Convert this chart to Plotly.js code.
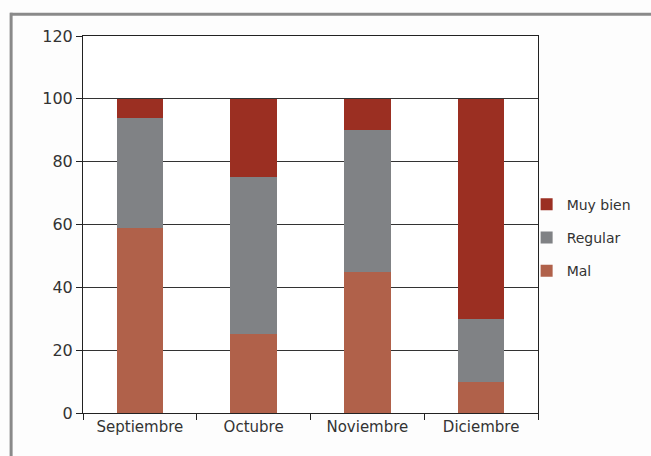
<!DOCTYPE html>
<html>
<head>
<meta charset="utf-8">
<script src="https://cdn.plot.ly/plotly-3.0.1.min.js"></script>
<style>
html,body{margin:0;padding:0;background:#fdfdfd;}
#chart{width:651px;height:456px;}
</style>
</head>
<body>
<div id="chart"></div>
<script>
var months = ["Septiembre", "Octubre", "Noviembre", "Diciembre"];
var mal = [59, 25, 45, 10];
var regular = [35, 50, 45, 20];
var muyBien = [6, 25, 10, 70];
var yTicks = [0, 20, 40, 60, 80, 100, 120];

var fontFam = "DejaVu Sans, Verdana, sans-serif";
var traces = [
  {type: "bar", name: "Mal", x: months, y: mal, marker: {color: "#B0614A"}, legendgroup: "a", legendrank: 3},
  {type: "bar", name: "Regular", x: months, y: regular, marker: {color: "#808285"}, legendgroup: "b", legendrank: 2},
  {type: "bar", name: "Muy bien", x: months, y: muyBien, marker: {color: "#9B2F22"}, legendgroup: "c", legendrank: 1}
];

var layout = {
  width: 651, height: 456,
  paper_bgcolor: "#fdfdfd",
  plot_bgcolor: "#ffffff",
  margin: {l: 83, r: 113, t: 36, b: 43},
  barmode: "stack",
  bargap: 0.59,
  font: {family: fontFam, size: 14, color: "#333333"},
  showlegend: true,
  legend: {
    x: 0.975, y: 0.465, xanchor: "left", yanchor: "middle",
    traceorder: "grouped", tracegroupgap: 12,
    bgcolor: "rgba(0,0,0,0)",
    font: {family: fontFam, size: 14, color: "#333333"}
  },
  xaxis: {
    showline: true, linecolor: "#222222", linewidth: 1, mirror: true,
    ticks: "outside", tickson: "boundaries", ticklen: 6, tickcolor: "#222222",
    showgrid: false, tickfont: {family: fontFam, size: 15, color: "#333333"}
  },
  yaxis: {
    range: [0, 120], tickvals: yTicks, ticktext: yTicks.map(String),
    showline: true, linecolor: "#222222", linewidth: 1, mirror: true,
    ticks: "outside", ticklen: 6, tickcolor: "#222222",
    showgrid: true, gridcolor: "#333333", gridwidth: 1,
    zeroline: false,
    tickfont: {family: fontFam, size: 16, color: "#333333"}
  },
  shapes: [
    {type: "line", xref: "paper", yref: "paper", x0: -0.16, x1: 1.26, y0: 1.058, y1: 1.058,
     line: {color: "#8a8a8a", width: 3}},
    {type: "line", xref: "paper", yref: "paper", x0: -0.158, x1: -0.158, y0: 1.062, y1: -0.12,
     line: {color: "#8a8a8a", width: 3}}
  ]
};

Plotly.newPlot("chart", traces, layout, {displayModeBar: false, staticPlot: true});
</script>
</body>
</html>
